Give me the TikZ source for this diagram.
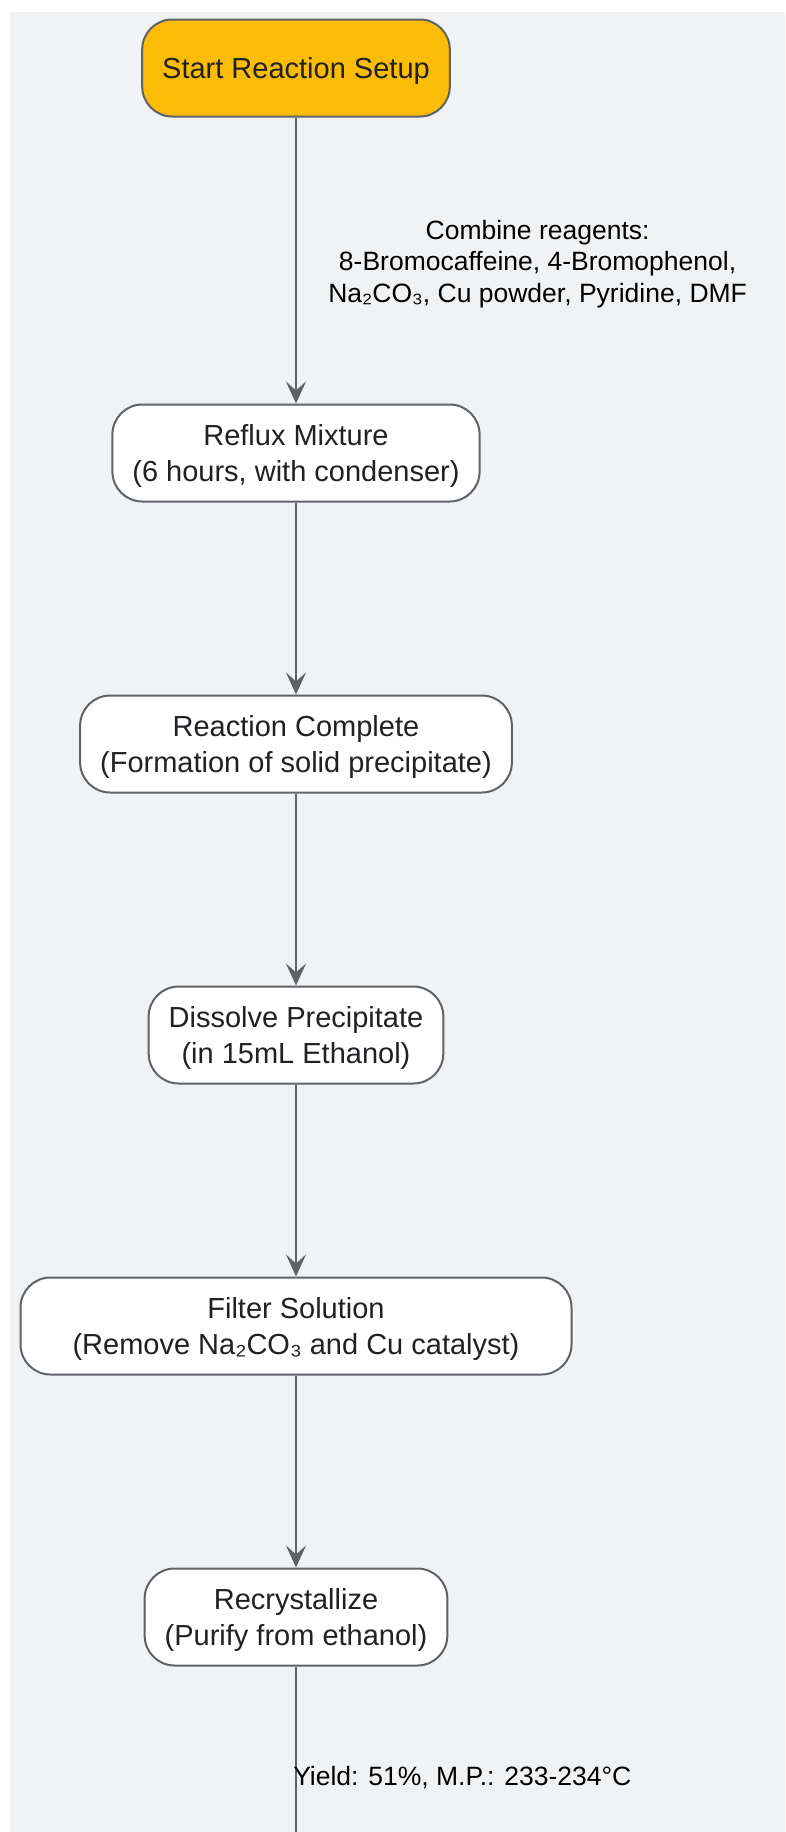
\documentclass[tikz,border=0pt]{standalone}
\usepackage{fontspec}
\setmainfont{Liberation Sans}
\usepackage{tikz}
\usetikzlibrary{positioning,arrows.meta}
\definecolor{bgcol}{HTML}{F1F2F4}
\definecolor{linecol}{HTML}{5F6368}
\definecolor{startcol}{HTML}{FBBC05}
\definecolor{txtcol}{HTML}{202124}
\tikzset{
    stepbox/.style={draw=linecol, line width=2pt, rounded corners=30pt, fill=white, minimum height=97pt,
    inner xsep=20pt, text depth=0pt, align=center, text=txtcol, font=\fontsize{29}{36}\selectfont},
    startbox/.style={stepbox, fill=startcol},
    flow/.style={draw=linecol, line width=2.5pt, -{Stealth[length=22pt, width=20pt, inset=9pt]}},
    edgelabel/.style={inner sep=0pt, align=center, text=black, font=\fontsize{26.5}{31.5}\selectfont}
}

\begin{document}
\begin{tikzpicture}[x=1pt, y=-1pt]
        \useasboundingbox (0, 0) rectangle (785, 1832);
        \fill[bgcol] (10, 12) rectangle (785, 1832);

        \node[startbox] (start) at (296, 68) {Start Reaction Setup};
        \node[stepbox] (reflux) at (296, 453) {Reflux Mixture\\(6 hours, with condenser)};
        \node[stepbox] (complete) at (296, 744) {Reaction Complete\\(Formation of solid precipitate)};
        \node[stepbox] (dissolve) at (296, 1035) {Dissolve Precipitate\\(in 15mL Ethanol)};
        \node[stepbox, minimum width=551pt] (filter) at (296, 1326) {Filter Solution\\(Remove Na₂CO₃ and Cu catalyst)};
        \node[stepbox] (recryst) at (296, 1617) {Recrystallize\\(Purify from ethanol)};
        \coordinate (tail) at (296, 1888);

        \draw[flow] (start) -- (reflux) node[midway, right = 31pt, yshift = -3.5pt, edgelabel]
        {Combine reagents:\\8-Bromocaffeine, 4-Bromophenol,\\Na₂CO₃, Cu powder, Pyridine, DMF};
        \draw[flow] (reflux) -- (complete);
        \draw[flow] (complete) -- (dissolve);
        \draw[flow] (dissolve) -- (filter);
        \draw[flow] (filter) -- (recryst);
        \draw[flow] (recryst) -- (tail) node[midway, right = -4pt, edgelabel] {Yield: 51\%, M.P.: 233-234°C};
    \end{tikzpicture}
\end{document}
